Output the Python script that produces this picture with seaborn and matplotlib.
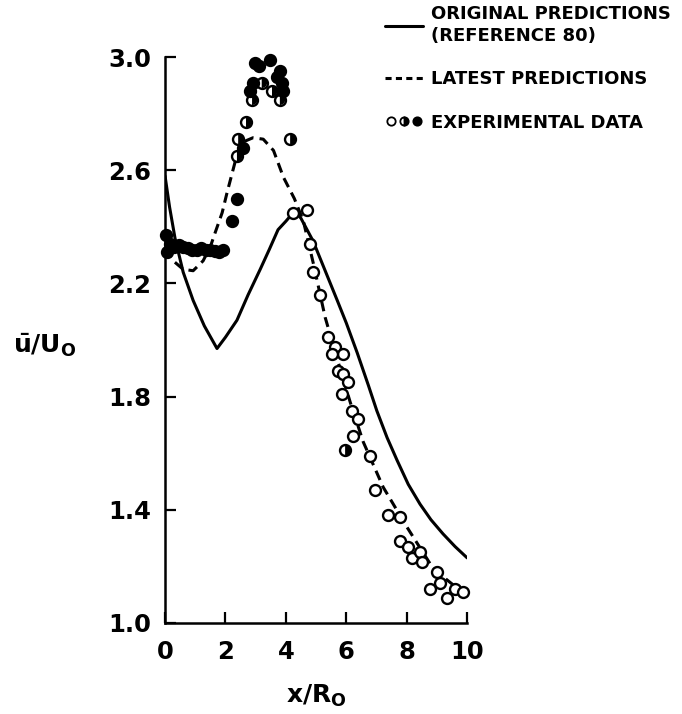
import numpy as np
import pandas as pd
import matplotlib
matplotlib.use("Agg")
import matplotlib.pyplot as plt
from matplotlib.markers import MarkerStyle
from matplotlib.lines import Line2D
from matplotlib.legend_handler import HandlerTuple
import seaborn as sns

# ---- prediction curves -------------------------------------------------
orig_x = [0.0, 0.15, 0.33, 0.6, 0.93, 1.3, 1.72, 2.0, 2.38, 2.75, 3.15,
          3.45, 3.74, 4.0, 4.2, 4.35, 4.5, 4.9, 5.3, 5.7, 6.0, 6.36, 6.73,
          7.01, 7.35, 7.68, 8.05, 8.44, 8.8, 9.2, 9.6, 10.0]
orig_y = [2.58, 2.47, 2.36, 2.24, 2.14, 2.05, 1.97, 2.01, 2.07, 2.16, 2.25,
          2.32, 2.39, 2.42, 2.445, 2.45, 2.43, 2.35, 2.245, 2.14, 2.06, 1.955,
          1.84, 1.75, 1.655, 1.575, 1.49, 1.42, 1.365, 1.315, 1.27, 1.23]

latest_x = [0.0, 0.27, 0.6, 0.93, 1.26, 1.5, 1.66, 1.89, 2.05, 2.32, 2.58,
            2.91, 3.25, 3.59, 3.92, 4.28, 4.58, 4.91, 5.3, 5.68, 6.13, 6.56,
            7.22, 8.0, 8.77, 9.3, 9.87, 10.0]
latest_y = [2.32, 2.28, 2.25, 2.245, 2.28, 2.33, 2.38, 2.45, 2.52, 2.63, 2.70,
            2.715, 2.71, 2.67, 2.575, 2.50, 2.42, 2.27, 2.08, 1.94, 1.78, 1.64,
            1.48, 1.34, 1.21, 1.155, 1.106, 1.10]

# ---- experimental data ---------------------------------------------------
open_x = [4.24, 4.7, 4.8, 4.9, 5.13, 5.4, 5.63, 5.9, 5.53, 5.73, 5.9, 6.06,
          5.86, 6.2, 6.4, 6.23, 6.8, 6.95, 7.38, 7.78, 7.78, 8.05, 8.18,
          8.44, 8.5, 9.0, 8.77, 9.1, 9.34, 9.6, 9.87]
open_y = [2.45, 2.46, 2.34, 2.24, 2.16, 2.01, 1.975, 1.95, 1.95, 1.89, 1.88,
          1.85, 1.81, 1.75, 1.72, 1.66, 1.59, 1.47, 1.38, 1.375, 1.29, 1.27,
          1.23, 1.25, 1.215, 1.18, 1.12, 1.14, 1.09, 1.12, 1.11]

half_x = [2.42, 2.38, 2.68, 2.88, 3.2, 3.54, 3.8, 4.14, 5.96]
half_y = [2.71, 2.65, 2.77, 2.85, 2.91, 2.88, 2.85, 2.71, 1.61]

filled_x = [0.03, 0.05, 0.15, 0.3, 0.45, 0.6, 0.75, 0.9, 1.05, 1.2, 1.35,
            1.5, 1.65, 1.8, 1.92, 2.22, 2.38, 2.58, 2.8, 2.9, 2.98, 3.12,
            3.48, 3.7, 3.8, 3.87, 3.92]
filled_y = [2.37, 2.31, 2.34, 2.33, 2.335, 2.33, 2.325, 2.32, 2.32, 2.325,
            2.32, 2.32, 2.315, 2.31, 2.32, 2.42, 2.50, 2.68, 2.88, 2.91,
            2.98, 2.97, 2.99, 2.93, 2.95, 2.91, 2.88]

x_ticks = [0, 2, 4, 6, 8, 10]
y_ticks = [1.0, 1.4, 1.8, 2.2, 2.6, 3.0]

# ---- styling --------------------------------------------------------------
sns.set_style("ticks")
plt.rcParams["font.family"] = ["DejaVu Sans"]
plt.rcParams["font.weight"] = "bold"
plt.rcParams["text.color"] = "black"
plt.rcParams["axes.labelcolor"] = "black"
plt.rcParams["xtick.color"] = "black"
plt.rcParams["ytick.color"] = "black"
plt.rcParams["mathtext.fontset"] = "custom"
plt.rcParams["mathtext.rm"] = "DejaVu Sans:bold"
plt.rcParams["mathtext.it"] = "DejaVu Sans:bold"
plt.rcParams["mathtext.bf"] = "DejaVu Sans:bold"

fig = plt.figure(figsize=(6.82, 7.14), dpi=100)
ax = fig.add_axes([0.242, 0.1275, 0.443, 0.7925])

lw = 2.2
sns.lineplot(x=orig_x, y=orig_y, ax=ax, color="black", lw=lw,
             sort=False, estimator=None)
sns.lineplot(x=latest_x, y=latest_y, ax=ax, color="black", lw=lw,
             sort=False, estimator=None)
ax.lines[-1].set_dashes((3.3, 2.0))

msize = 62
medge = 1.7
sns.scatterplot(x=open_x, y=open_y, ax=ax, s=msize, marker="o",
                facecolor="white", edgecolor="black", linewidth=medge,
                zorder=4, clip_on=False)
sns.scatterplot(x=half_x, y=half_y, ax=ax, s=msize, marker="o",
                facecolor="white", edgecolor="black", linewidth=medge,
                zorder=4, clip_on=False)
sns.scatterplot(x=half_x, y=half_y, ax=ax, s=msize,
                marker=MarkerStyle("o", fillstyle="right"),
                facecolor="black", edgecolor="none", linewidth=0,
                zorder=5, clip_on=False)
sns.scatterplot(x=filled_x, y=filled_y, ax=ax, s=msize, marker="o",
                facecolor="black", edgecolor="black", linewidth=medge,
                zorder=5, clip_on=False)

ax.set_xlim(0, 10)
ax.set_ylim(1.0, 3.0)
ax.set_xticks(x_ticks)
ax.set_yticks(y_ticks)
ax.set_xticklabels([str(t) for t in x_ticks])
ax.set_yticklabels([f"{t:.1f}" for t in y_ticks])
ax.tick_params(direction="in", length=8, width=1.6, labelsize=17.5,
               colors="black")
ax.tick_params(axis="y", pad=10)
ax.tick_params(axis="x", pad=12)
for lab in ax.get_xticklabels() + ax.get_yticklabels():
    lab.set_fontweight("bold")
sns.despine(ax=ax)
for side in ("left", "bottom"):
    ax.spines[side].set_linewidth(1.8)
    ax.spines[side].set_color("black")

ax.set_xlabel(r"$x/R_O$", fontsize=18)
ax.set_ylabel(r"$\bar{u}/U_O$", fontsize=18, rotation=0, ha="center",
              va="center")
ax.xaxis.set_label_coords(0.5, -0.105)
ax.yaxis.set_label_coords(-0.40, 0.49)

# ---- legend -----------------------------------------------------------------
h_solid = Line2D([], [], color="black", lw=lw)
h_dash = Line2D([], [], color="black", lw=lw, dashes=(2.0, 1.4))
ms = 6
h_open = Line2D([], [], ls="none", marker="o", ms=ms, mfc="white",
                mec="black", mew=1.3)
h_half = Line2D([], [], ls="none", marker="o", ms=ms, fillstyle="right",
                mfc="black", mfcalt="white", mec="black", mew=1.3)
h_fill = Line2D([], [], ls="none", marker="o", ms=ms, mfc="black",
                mec="black", mew=1.3)
leg = fig.legend(
    [h_solid, h_dash, (h_open, h_half, h_fill)],
    ["ORIGINAL PREDICTIONS\n(REFERENCE 80)", "LATEST PREDICTIONS",
     "EXPERIMENTAL DATA"],
    handler_map={tuple: HandlerTuple(ndivide=None, pad=0.0)},
    loc="upper left", bbox_to_anchor=(0.5645, 0.993), frameon=False,
    prop={"family": "DejaVu Sans", "weight": "bold", "size": 13},
    handlelength=2.1, handletextpad=0.45, labelspacing=1.4,
    borderaxespad=0.0, borderpad=0.0)
for t in leg.get_texts():
    t.set_linespacing(1.3)
    t.set_color("black")

fig.savefig("out.png", dpi=100)
